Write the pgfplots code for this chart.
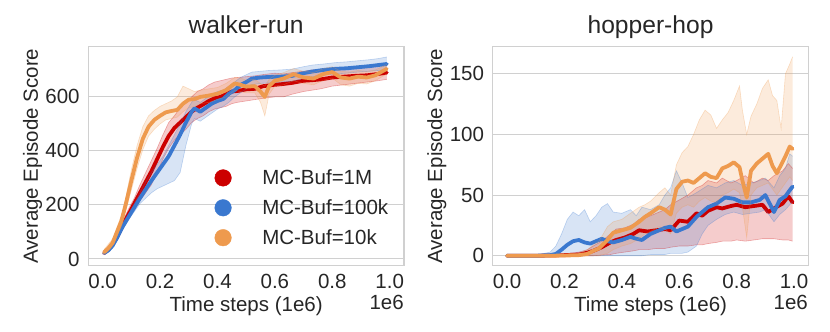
\documentclass[border=0pt]{standalone}
\usepackage{fontspec}
\setmainfont{Liberation Sans}
\usepackage{pgfplots}
\pgfplotsset{compat=1.18}
\usepackage{pgfplotstable}
\usepgfplotslibrary{fillbetween}
\definecolor{cred}{HTML}{CC0000}
\definecolor{cblue}{HTML}{3A78CF}
\definecolor{corange}{HTML}{EE9A4E}
\definecolor{gridc}{HTML}{D0D0D0}

% walker-run
\pgfplotstableread{
x m lo hi
0.005 22 15 30
0.02 35 28 45
0.035 55 45 68
0.05 80 70 95
0.07 125 110 140
0.09 165 150 185
0.11 205 185 225
0.13 245 215 275
0.15 285 245 320
0.17 325 275 365
0.19 370 320 410
0.21 415 370 460
0.23 455 410 505
0.25 485 440 530
0.27 505 460 560
0.29 525 480 580
0.31 545 505 600
0.33 560 520 620
0.35 572 530 630
0.37 585 545 645
0.39 595 555 655
0.41 600 560 660
0.43 610 565 665
0.45 620 575 670
0.47 622 580 672
0.50 628 585 675
0.53 630 590 678
0.56 640 595 683
0.60 645 600 688
0.63 648 600 685
0.66 652 610 690
0.70 660 620 695
0.73 662 625 700
0.76 665 630 700
0.80 672 640 705
0.84 675 645 708
0.88 678 650 712
0.92 680 655 712
0.96 685 660 715
0.99 690 665 720
}\wred
\pgfplotstableread{
x m lo hi
0.005 22 15 30
0.02 32 25 42
0.035 50 40 62
0.05 78 68 90
0.07 120 110 132
0.09 155 145 168
0.11 190 175 205
0.13 225 205 245
0.15 258 225 285
0.17 290 245 320
0.19 320 260 350
0.21 350 270 380
0.23 380 280 420
0.25 420 290 460
0.27 460 320 500
0.29 505 420 545
0.31 545 500 580
0.32 558 520 590
0.34 545 510 580
0.36 560 525 595
0.38 575 540 610
0.40 585 555 620
0.42 592 565 625
0.44 612 580 640
0.46 625 600 655
0.48 644 615 672
0.50 655 630 682
0.52 668 645 692
0.55 672 650 695
0.58 674 652 698
0.62 675 655 700
0.66 678 658 703
0.70 688 668 712
0.73 694 675 718
0.77 700 680 722
0.81 704 685 727
0.85 706 688 730
0.89 710 692 734
0.93 714 695 738
0.96 718 698 742
0.99 722 702 748
}\wblue
\pgfplotstableread{
x m lo hi
0.005 25 18 35
0.02 40 30 55
0.035 60 50 75
0.05 100 85 118
0.065 140 120 160
0.08 200 175 225
0.10 290 255 330
0.12 375 335 420
0.14 445 405 490
0.16 490 455 530
0.18 515 480 550
0.20 530 500 565
0.22 543 515 575
0.24 548 520 585
0.26 552 525 600
0.28 575 545 640
0.30 590 560 630
0.32 592 565 620
0.34 600 575 625
0.37 605 580 630
0.40 612 590 635
0.43 625 600 650
0.46 650 625 672
0.48 645 620 670
0.50 638 615 662
0.53 640 615 665
0.55 620 580 650
0.565 600 530 640
0.58 640 610 665
0.60 660 640 680
0.63 668 645 690
0.665 684 660 705
0.70 672 650 695
0.735 668 645 690
0.77 685 662 705
0.80 692 670 712
0.83 672 645 695
0.86 668 640 692
0.89 675 650 698
0.92 672 648 695
0.95 680 660 700
0.99 704 685 720
}\worange

% hopper-hop
\pgfplotstableread{
x m lo hi
0.0 0 0 0
0.05 0 0 0.3
0.10 0 0 0.5
0.15 0.2 0 1
0.20 0.5 0 1.5
0.25 1.0 0 3
0.28 2.5 0 5
0.30 4 0 8
0.33 7 0.5 12
0.36 11 1 18
0.38 13 2 22
0.41 15 3 23
0.44 18 4 26
0.46 21 5 30
0.49 20 5 32
0.52 21 6 35
0.55 22 6 38
0.57 21 7 42
0.60 29 8 46
0.63 28 8 50
0.66 35 9 56
0.68 33 9 58
0.70 37 10 62
0.73 40 11 60
0.75 39 12 64
0.78 41 12 60
0.80 42 13 62
0.83 40 12 66
0.86 41 13 60
0.89 42 14 64
0.91 36 14 62
0.93 39 14 66
0.96 43 13 70
0.98 49 13 76
0.995 44 12 72
}\hred
\pgfplotstableread{
x m lo hi
0.0 0 0 0
0.05 0 0 0.3
0.10 0 0 0.5
0.15 0.5 0 3
0.17 1.5 0 8
0.19 5 0 18
0.21 9 0 30
0.23 12 0 36
0.25 13 0 33
0.27 11 0 38
0.29 10 0 28
0.31 12 0 33
0.33 14 0 40
0.35 12 0 43
0.37 11 0 36
0.40 13 0 35
0.43 15.6 0 38
0.45 14 0 33
0.47 13 0 40
0.50 18 1 38
0.53 21 1 42
0.55 23 1 50
0.57 24 2 56
0.59 20 2 70
0.61 22 2 60
0.63 24 3 48
0.66 32 8 52
0.68 36 18 55
0.70 40 25 58
0.73 43 30 56
0.76 48 34 60
0.79 47 36 62
0.82 44 34 58
0.85 44 35 60
0.88 46 36 62
0.90 50 38 64
0.93 36 28 56
0.95 46 34 66
0.97 49 38 72
0.985 54 42 84
0.995 57 45 82
}\hblue
\pgfplotstableread{
x m lo hi
0.0 0 0 0
0.05 0 0 0.2
0.10 0 0 0.3
0.15 0 0 0.5
0.20 0.2 0 1
0.25 0.5 0 2
0.28 1.5 0 5
0.30 4 0 9
0.32 6 0 12
0.35 13 2 24
0.37 19 5 28
0.40 21 8 30
0.43 23 10 35
0.46 28 14 40
0.48 32 18 42
0.50 35 20 45
0.53 40 24 52
0.55 38 22 56
0.57 34 18 50
0.59 55 35 75
0.61 61 40 85
0.63 62 42 90
0.65 60 40 100
0.67 64 45 112
0.69 68 48 120
0.71 65 45 116
0.73 64 44 105
0.75 72 50 112
0.77 74 52 118
0.79 77 55 128
0.81 73 52 140
0.82 62 40 120
0.835 48 15 100
0.85 70 50 115
0.87 76 56 125
0.89 80 58 138
0.91 84 60 145
0.925 74 55 132
0.94 68 50 128
0.955 75 55 105
0.97 82 60 150
0.985 90 65 158
0.995 88 62 164
}\horange

\newcommand{\fs}{\fontsize{20.5}{24}\selectfont}

\pgfplotsset{
  myaxis/.style={
    scale only axis, width=315.7pt, height=219pt, anchor=south west,
    xmin=-0.05, xmax=1.05,
    xtick={0,0.2,0.4,0.6,0.8,1.0},
    /pgf/number format/assume math mode=true,
    xticklabel style={/pgf/number format/fixed, /pgf/number format/fixed zerofill, /pgf/number format/precision=1,
      anchor=north, inner sep=0pt, yshift=-8.5pt},
    yticklabel style={anchor=east, inner sep=0pt, xshift=-8.5pt},
    major tick length=0pt, tick style={draw=none},
    axis line style={draw=gridc, line width=1.2pt},
    ymajorgrids, grid style={draw=gridc, line width=1pt},
    ticklabel style={font=\fs, text=black!85},
    label style={font=\fs, text=black!85},
    title style={font=\fontsize{24.6}{28}\selectfont, text=black!85, at={(0.5,1)}, anchor=base, yshift=6.7pt},
    xlabel style={at={(axis description cs:0.5,0)}, anchor=base, yshift=-46pt},
    ylabel style={at={(axis description cs:0,0.5)}, anchor=base, yshift=50.5pt},
    xlabel={Time steps (1e6)},
    ylabel={Average Episode Score},
  },
  band/.style={draw=#1, draw opacity=0.3, line width=0.6pt, forget plot},
  mean/.style={draw=#1, line width=3.8pt, line join=round, line cap=round, forget plot},
}

\begin{document}
\begin{tikzpicture}
\path (0pt,0pt) rectangle (830pt,332pt);

\begin{axis}[myaxis, at={(88.3pt,66.3pt)},
  ymin=-25, ymax=786, ytick={0,200,400,600},
  title={walker-run},
  legend style={at={(0.400,0.4397)}, anchor=north west, draw=none, fill=none,
    inner sep=0pt, outer sep=0pt,
    row sep=12.9pt, column sep=30.7pt,
    nodes={inner sep=0pt, font=\fs, text=black!85}},
  legend cell align=left,
  legend image code/.code={\fill[#1] (8.3pt,0pt) circle (8.3pt);},
]
\addplot[band=cred, name path=rl] table[x=x,y=lo]{\wred};
\addplot[band=cred, name path=rh] table[x=x,y=hi]{\wred};
\addplot[fill=cred, fill opacity=0.2, draw=none, forget plot] fill between[of=rl and rh];
\addplot[mean=cred] table[x=x,y=m]{\wred};
\addplot[band=cblue, name path=bl] table[x=x,y=lo]{\wblue};
\addplot[band=cblue, name path=bh] table[x=x,y=hi]{\wblue};
\addplot[fill=cblue, fill opacity=0.2, draw=none, forget plot] fill between[of=bl and bh];
\addplot[mean=cblue] table[x=x,y=m]{\wblue};
\addplot[band=corange, name path=ol] table[x=x,y=lo]{\worange};
\addplot[band=corange, name path=oh] table[x=x,y=hi]{\worange};
\addplot[fill=corange, fill opacity=0.2, draw=none, forget plot] fill between[of=ol and oh];
\addplot[mean=corange] table[x=x,y=m]{\worange};
\addlegendimage{cred}\addlegendentry{MC-Buf=1M}
\addlegendimage{cblue}\addlegendentry{MC-Buf=100k}
\addlegendimage{corange}\addlegendentry{MC-Buf=10k}
\end{axis}

\begin{axis}[myaxis, at={(492.7pt,66.3pt)},
  ymin=-8.2, ymax=172.3, ytick={0,50,100,150},
  title={hopper-hop},
]
\addplot[band=cred, name path=rl] table[x=x,y=lo]{\hred};
\addplot[band=cred, name path=rh] table[x=x,y=hi]{\hred};
\addplot[fill=cred, fill opacity=0.2, draw=none, forget plot] fill between[of=rl and rh];
\addplot[mean=cred] table[x=x,y=m]{\hred};
\addplot[band=cblue, name path=bl] table[x=x,y=lo]{\hblue};
\addplot[band=cblue, name path=bh] table[x=x,y=hi]{\hblue};
\addplot[fill=cblue, fill opacity=0.2, draw=none, forget plot] fill between[of=bl and bh];
\addplot[mean=cblue] table[x=x,y=m]{\hblue};
\addplot[band=corange, name path=ol] table[x=x,y=lo]{\horange};
\addplot[band=corange, name path=oh] table[x=x,y=hi]{\horange};
\addplot[fill=corange, fill opacity=0.2, draw=none, forget plot] fill between[of=ol and oh];
\addplot[mean=corange] table[x=x,y=m]{\horange};
\end{axis}

\node[anchor=base east, inner sep=0pt, font=\fs, text=black!85] at (404pt,22pt) {1e6};
\node[anchor=base east, inner sep=0pt, font=\fs, text=black!85] at (808pt,22pt) {1e6};
\end{tikzpicture}
\end{document}
